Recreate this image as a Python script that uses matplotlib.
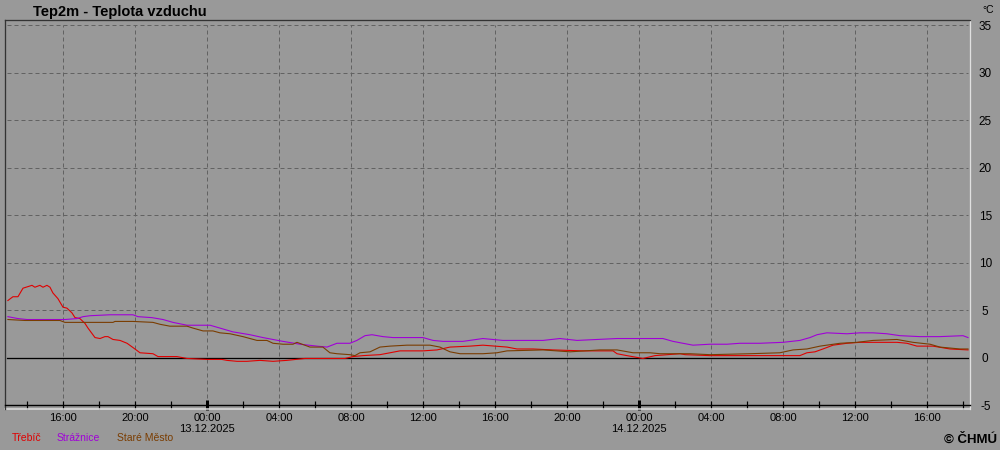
import matplotlib.pyplot as plt
import numpy as np

# hours relative to 13.12.2025 00:00
trebic_h = [-11.06, -10.78, -10.5, -10.22, -9.72, -9.56, -9.28, -9.11, -8.89, -8.72, -8.56, -8.28,
            -8.0, -7.78, -7.5, -7.33, -7.06, -6.78, -6.61, -6.22, -5.94, -5.67, -5.5, -5.22, -4.83,
            -4.44, -4.11, -3.72, -3.0, -2.72, -1.67, -1.11, 0.0, 0.83, 1.11, 1.67, 2.22, 2.94, 3.67,
            4.44, 5.44, 6.67, 7.67, 8.11, 8.67, 9.61, 10.17, 10.72, 12.0, 12.78, 13.5, 14.61, 15.33,
            16.67, 17.22, 18.11, 19.22, 20.89, 22.56, 22.78, 23.33, 24.22, 24.89, 26.28, 26.56, 27.94,
            30.17, 32.94, 33.33, 33.78, 34.22, 34.78, 35.56, 36.28, 37.39, 38.33, 38.89, 39.44, 40.33,
            41.28, 42.28]
trebic_t = [6.0, 6.4, 6.4, 7.3, 7.6, 7.4, 7.6, 7.4, 7.6, 7.4, 6.8, 6.2, 5.3, 5.2, 4.7, 4.2, 4.1, 3.6,
            3.1, 2.1, 2.0, 2.2, 2.2, 1.9, 1.8, 1.5, 1.05, 0.5, 0.4, 0.1, 0.1, -0.1, -0.2, -0.2, -0.3,
            -0.4, -0.4, -0.3, -0.4, -0.3, -0.1, -0.1, -0.1, 0.1, 0.2, 0.3, 0.5, 0.7, 0.7, 0.8, 1.1, 1.2,
            1.3, 1.1, 0.9, 0.9, 0.8, 0.7, 0.7, 0.4, 0.2, -0.1, 0.2, 0.4, 0.3, 0.2, 0.2, 0.2, 0.5, 0.6,
            0.9, 1.3, 1.5, 1.6, 1.6, 1.6, 1.5, 1.2, 1.2, 0.9, 0.8]

straznice_h = [-11.06, -10.5, -10.0, -8.17, -7.89, -7.22, -6.89, -6.5, -5.39, -4.11, -3.83, -3.06,
               -2.44, -1.89, -1.11, -0.39, 0.17, 0.72, 1.44, 2.39, 3.11, 4.22, 5.17, 6.11, 6.67, 7.22,
               7.94, 8.33, 8.78, 9.17, 9.78, 10.33, 12.0, 12.56, 13.11, 14.22, 15.33, 16.44, 18.67,
               19.61, 20.56, 22.78, 24.06, 25.33, 25.89, 26.44, 27.0, 27.94, 28.89, 29.61, 30.72,
               32.0, 32.94, 33.5, 33.89, 34.44, 35.56, 36.28, 37.0, 37.78, 38.5, 39.61, 40.72, 42.0,
               42.28]
straznice_t = [4.3, 4.1, 4.0, 4.0, 4.0, 4.1, 4.3, 4.4, 4.5, 4.5, 4.3, 4.2, 4.0, 3.7, 3.4, 3.4, 3.4,
               3.1, 2.7, 2.4, 2.1, 1.7, 1.4, 1.2, 1.1, 1.5, 1.5, 1.8, 2.3, 2.4, 2.2, 2.1, 2.1, 1.8, 1.7,
               1.7, 2.0, 1.8, 1.8, 2.0, 1.8, 2.0, 2.0, 2.0, 1.7, 1.5, 1.3, 1.4, 1.4, 1.5, 1.5, 1.6, 1.8,
               2.1, 2.4, 2.6, 2.5, 2.6, 2.6, 2.5, 2.3, 2.2, 2.2, 2.3, 2.1]

stare_mesto_h = [-11.06, -10.11, -8.17, -7.89, -5.22, -5.11, -4.11, -3.0, -2.61, -2.06, -1.11, -0.78,
                 -0.22, 0.33, 0.72, 1.28, 2.0, 2.78, 3.33, 3.67, 4.22, 4.78, 5.0, 5.72, 6.44, 6.83,
                 7.22, 7.94, 8.22, 8.5, 9.06, 9.61, 10.17, 11.11, 12.39, 12.94, 13.5, 14.06, 15.33,
                 16.11, 16.67, 18.67, 20.17, 21.83, 22.78, 23.67, 24.61, 25.17, 26.83, 27.94, 30.17,
                 31.83, 32.56, 33.33, 34.06, 35.17, 36.11, 37.0, 38.33, 39.22, 40.17, 40.72, 41.83,
                 42.28]
stare_mesto_t = [4.0, 3.9, 3.9, 3.7, 3.7, 3.8, 3.8, 3.7, 3.5, 3.3, 3.3, 3.1, 2.8, 2.8, 2.6, 2.5, 2.2,
                 1.8, 1.8, 1.5, 1.4, 1.4, 1.6, 1.1, 1.1, 0.5, 0.4, 0.3, 0.2, 0.5, 0.6, 1.1, 1.2, 1.3,
                 1.3, 1.1, 0.6, 0.4, 0.4, 0.5, 0.7, 0.8, 0.6, 0.8, 0.8, 0.5, 0.5, 0.4, 0.4, 0.3, 0.4,
                 0.5, 0.8, 0.9, 1.2, 1.5, 1.6, 1.8, 1.9, 1.6, 1.4, 1.1, 0.9, 0.9]

tick_hours = [-8, -4, 0, 4, 8, 12, 16, 20, 24, 28, 32, 36, 40]
tick_labels = ['16:00', '20:00', '00:00\n13.12.2025', '04:00', '08:00', '12:00', '16:00', '20:00',
               '00:00\n14.12.2025', '04:00', '08:00', '12:00', '16:00']
minor_hours = [-10, -6, -2, 2, 6, 10, 14, 18, 22, 26, 30, 34, 38, 42]
midnights = [0, 24]
y_ticks = [-5, 0, 5, 10, 15, 20, 25, 30, 35]

bg = '#999999'
px = 0.72  # one pixel in points

fig = plt.figure(figsize=(10, 4.5), dpi=100, facecolor=bg)
ax = fig.add_axes([0.005, 0.0911, 0.965, 0.8644], facecolor=bg)

ax.plot(trebic_h, trebic_t, color='#e00000', lw=1.1 * px)
ax.plot(straznice_h, straznice_t, color='#a000d8', lw=1.1 * px)
ax.plot(stare_mesto_h, stare_mesto_t, color='#7a3c00', lw=1.1 * px)
ax.plot([-11.1, 42.3], [0, 0], color='black', lw=1.3 * px, zorder=1)

ax.set_xlim(-11.22, 42.39)
ax.set_ylim(-5.42, 35.53)

# grid
for h in tick_hours:
    ax.plot([h, h], [-5, 35], color='#626262', lw=px, ls=(0, (4, 3)), zorder=0)
for v in y_ticks[2:]:
    ax.plot([-11.1, 42.3], [v, v], color='#626262', lw=px, ls=(0, (4, 3)), zorder=0)

# spines
for s in ['left', 'top']:
    ax.spines[s].set_color('#333333')
    ax.spines[s].set_linewidth(1.3 * px)
ax.spines['right'].set_color('#e0e0e0')
ax.spines['right'].set_linewidth(1.3 * px)
ax.spines['bottom'].set_position(('data', -5))
ax.spines['bottom'].set_color('black')
ax.spines['bottom'].set_linewidth(1.4 * px)
ax.plot([0, 1], [0, 0], transform=ax.transAxes, color='#e0e0e0', lw=1.5 * px, clip_on=False)

ax.set_xticks(tick_hours)
ax.set_xticklabels(tick_labels, fontsize=8, family='Liberation Sans', linespacing=1.05)
ax.set_xticks(minor_hours, minor=True)
ax.tick_params(axis='x', which='both', direction='inout', length=6, width=1.2 * px, pad=3,
               colors='black')
for t in ax.xaxis.get_major_ticks():
    if t.get_loc() in midnights:
        t.tick1line.set_markeredgewidth(3 * px)
        t.tick1line.set_markersize(7)

ax.yaxis.tick_right()
ax.set_yticks(y_ticks)
ax.set_yticklabels([str(v) for v in y_ticks], fontsize=8.5, family='Liberation Sans')
ax.tick_params(axis='y', length=0, pad=11)
for lab in ax.get_yticklabels():
    lab.set_ha('center')

fig.text(0.033, 0.973, 'Tep2m - Teplota vzduchu', fontsize=10.5, fontweight='bold',
         family='Liberation Sans', va='center', ha='left')
fig.text(0.988, 0.978, '°C', fontsize=7.5, family='Liberation Sans', va='center', ha='center')

legend_names = ['Třebíč', 'Strážnice', 'Staré Město']
legend_colors = ['#e00000', '#a000d8', '#7a3c00']
legend_x = [0.012, 0.057, 0.117]
for name, c, x in zip(legend_names, legend_colors, legend_x):
    fig.text(x, 1 - 438 / 450, name, fontsize=7.5, family='Liberation Sans', color=c,
             va='center', ha='left')
fig.text(0.997, 1 - 440 / 450, '© ČHMÚ', fontsize=9.5, fontweight='bold',
         family='Liberation Sans', va='center', ha='right')

fig.savefig('out.png', dpi=100, facecolor=bg)
